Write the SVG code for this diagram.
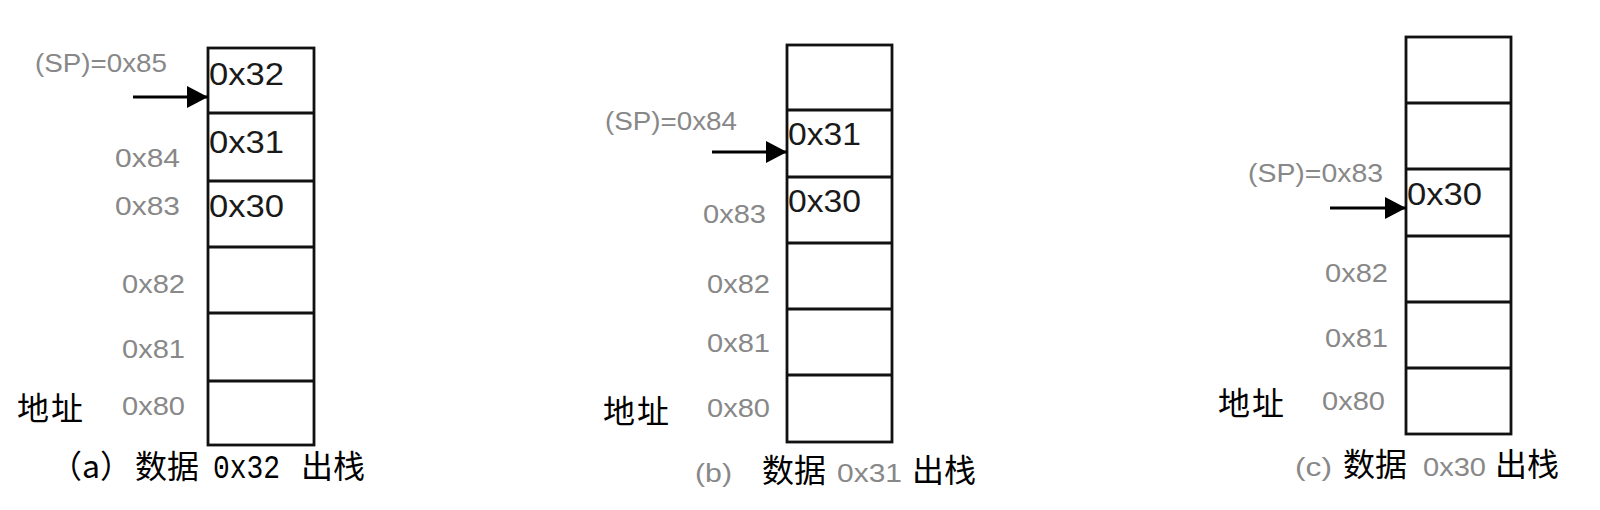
<svg xmlns="http://www.w3.org/2000/svg" width="1600" height="510" viewBox="0 0 1600 510">
<style>
.box{fill:#fff;stroke:#111;stroke-width:2.8}
.div{stroke:#111;stroke-width:2.8}
.cell{font-family:"Liberation Sans",Arial,sans-serif;font-size:32px;fill:#1a1a1a}
.addr{font-family:"Liberation Sans",Arial,sans-serif;font-size:26px;fill:#888}
.cjk{font-family:"Noto Sans CJK SC",sans-serif;font-size:32px;fill:#000}
.mono{font-family:"Liberation Mono",monospace;font-size:34px;fill:#000}
.arrow{stroke:#000;stroke-width:3;fill:none}
</style>
<defs>
<marker id="ah" markerUnits="userSpaceOnUse" markerWidth="22" markerHeight="22" refX="21" refY="11" orient="auto">
<path d="M0,0 L21,11 L0,22 Z" fill="#000"/>
</marker>
</defs>
<rect width="1600" height="510" fill="#fff"/>

<g id="stack-a">
<rect class="box" x="208" y="48" width="106" height="397"/>
<line class="div" x1="208" y1="113" x2="314" y2="113"/>
<line class="div" x1="208" y1="181" x2="314" y2="181"/>
<line class="div" x1="208" y1="247" x2="314" y2="247"/>
<line class="div" x1="208" y1="313" x2="314" y2="313"/>
<line class="div" x1="208" y1="381" x2="314" y2="381"/>
<text class="cell" x="209" y="85" textLength="75" lengthAdjust="spacingAndGlyphs">0x32</text>
<text class="cell" x="209" y="153" textLength="75" lengthAdjust="spacingAndGlyphs">0x31</text>
<text class="cell" x="209" y="217" textLength="75" lengthAdjust="spacingAndGlyphs">0x30</text>
<text class="addr" x="35" y="72" textLength="132" lengthAdjust="spacingAndGlyphs">(SP)=0x85</text>
<text class="addr" x="115" y="167" textLength="65" lengthAdjust="spacingAndGlyphs">0x84</text>
<text class="addr" x="115" y="215" textLength="65" lengthAdjust="spacingAndGlyphs">0x83</text>
<text class="addr" x="122" y="293" textLength="63" lengthAdjust="spacingAndGlyphs">0x82</text>
<text class="addr" x="122" y="358" textLength="63" lengthAdjust="spacingAndGlyphs">0x81</text>
<text class="addr" x="122" y="415" textLength="63" lengthAdjust="spacingAndGlyphs">0x80</text>
<text class="cjk" x="17" y="420" font-size="33" textLength="66">地址</text>
<text class="cjk" x="50" y="478" font-size="31">（a）</text>
<text class="cjk" x="135" y="478" font-size="31">数据</text>
<text class="mono" x="213" y="478" textLength="67" lengthAdjust="spacingAndGlyphs">0x32</text>
<text class="cjk" x="301" y="478" font-size="31">出栈</text>
</g>

<g id="stack-b">
<rect class="box" x="787" y="45" width="105" height="397"/>
<line class="div" x1="787" y1="110" x2="892" y2="110"/>
<line class="div" x1="787" y1="177" x2="892" y2="177"/>
<line class="div" x1="787" y1="243" x2="892" y2="243"/>
<line class="div" x1="787" y1="309" x2="892" y2="309"/>
<line class="div" x1="787" y1="375" x2="892" y2="375"/>
<text class="cell" x="788" y="145" textLength="73" lengthAdjust="spacingAndGlyphs">0x31</text>
<text class="cell" x="788" y="212" textLength="73" lengthAdjust="spacingAndGlyphs">0x30</text>
<text class="addr" x="605" y="130" textLength="132" lengthAdjust="spacingAndGlyphs">(SP)=0x84</text>
<text class="addr" x="703" y="223" textLength="63" lengthAdjust="spacingAndGlyphs">0x83</text>
<text class="addr" x="707" y="293" textLength="63" lengthAdjust="spacingAndGlyphs">0x82</text>
<text class="addr" x="707" y="352" textLength="63" lengthAdjust="spacingAndGlyphs">0x81</text>
<text class="addr" x="707" y="417" textLength="63" lengthAdjust="spacingAndGlyphs">0x80</text>
<text class="cjk" x="603" y="423" font-size="33" textLength="66">地址</text>
<text class="addr" x="695" y="482" font-size="28" textLength="37" lengthAdjust="spacingAndGlyphs">(b)</text>
<text class="cjk" x="762" y="482" font-size="33">数据</text>
<text class="addr" x="837" y="482" font-size="28" textLength="65" lengthAdjust="spacingAndGlyphs">0x31</text>
<text class="cjk" x="912" y="482" font-size="33">出栈</text>
</g>

<g id="stack-c">
<rect class="box" x="1406" y="37" width="105" height="397"/>
<line class="div" x1="1406" y1="103" x2="1511" y2="103"/>
<line class="div" x1="1406" y1="169" x2="1511" y2="169"/>
<line class="div" x1="1406" y1="236" x2="1511" y2="236"/>
<line class="div" x1="1406" y1="302" x2="1511" y2="302"/>
<line class="div" x1="1406" y1="368" x2="1511" y2="368"/>
<text class="cell" x="1407" y="205" textLength="75" lengthAdjust="spacingAndGlyphs">0x30</text>
<text class="addr" x="1248" y="182" textLength="135" lengthAdjust="spacingAndGlyphs">(SP)=0x83</text>
<text class="addr" x="1325" y="282" textLength="63" lengthAdjust="spacingAndGlyphs">0x82</text>
<text class="addr" x="1325" y="347" textLength="63" lengthAdjust="spacingAndGlyphs">0x81</text>
<text class="addr" x="1322" y="410" textLength="63" lengthAdjust="spacingAndGlyphs">0x80</text>
<text class="cjk" x="1218" y="415" font-size="33" textLength="66">地址</text>
<text class="addr" x="1295" y="476" font-size="28" textLength="37" lengthAdjust="spacingAndGlyphs">(c)</text>
<text class="cjk" x="1343" y="476" font-size="33">数据</text>
<text class="addr" x="1423" y="476" font-size="28" textLength="63" lengthAdjust="spacingAndGlyphs">0x30</text>
<text class="cjk" x="1495" y="476" font-size="33">出栈</text>
</g>

<g id="connectors">
<line class="arrow" x1="133" y1="97" x2="208" y2="97" marker-end="url(#ah)"/>
<line class="arrow" x1="712" y1="152" x2="787" y2="152" marker-end="url(#ah)"/>
<line class="arrow" x1="1330" y1="208" x2="1406" y2="208" marker-end="url(#ah)"/>
</g>
</svg>
